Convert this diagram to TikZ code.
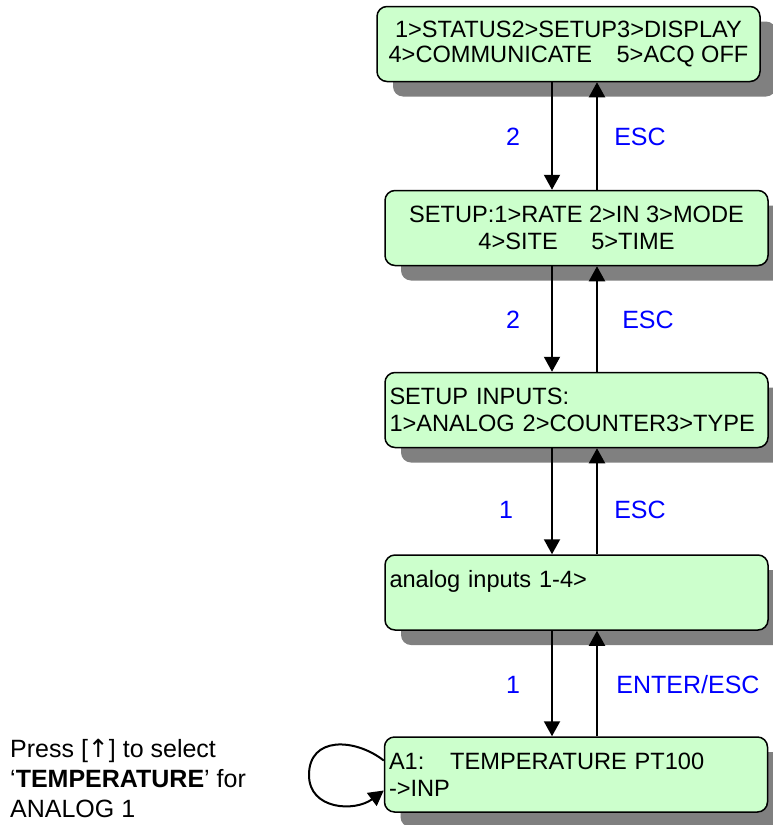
\documentclass[tikz,border=0pt]{standalone}
\usepackage{fontspec}
\setmainfont{Liberation Sans}
\newfontfamily\symfont{DejaVu Sans}
\usetikzlibrary{shadows,arrows.meta}
\definecolor{menugreen}{HTML}{CCFFCC}
\definecolor{shadowgray}{HTML}{808080}
\begin{document}
\begin{tikzpicture}
[x=1pt,y=-1pt,>={Triangle[width=16pt,length=15pt]},
menu/.style = {draw, line width=1.5pt, rounded corners=10pt, fill=menugreen, minimum width=383pt, minimum height=75pt, inner xsep=4.5pt, font=\fontsize{23.6}{27}\selectfont, drop shadow={shadow xshift=16pt, shadow yshift=-15pt, fill=shadowgray, opacity=1}},
lefttext/.style = {text width=374pt, align=left},
key/.style = {text=blue, font=\fontsize{25}{30}\selectfont},
link/.style = {->, line width=2pt},]
\useasboundingbox (0,0) rectangle (773,825);
\node (b1) at (568.5,44)[menu,align=center] {1>STATUS2>SETUP3>DISPLAY\\[-2pt]4>COMMUNICATE\hspace{18pt} 5>ACQ OFF};
\node (b2) at (576.5,228)[menu,align=center] {SETUP:1>RATE 2>IN 3>MODE\\4>SITE\hspace{27pt} 5>TIME};
\node (b3) at (576.5,410)[menu,lefttext] {SETUP INPUTS:\\1>ANALOG 2>COUNTER3>TYPE};
\node (b4) at (576.5,592.5)[menu,lefttext] {analog inputs 1-4>\\\mbox{}};
\node (b5) at (576,774.5)[menu,lefttext] {A1:\hspace{14pt} TEMPERATURE PT100\\->INP};
\node (hint) at (10,778)[anchor=west, align=left, inner sep=0pt, font=\fontsize{25}{30}\selectfont] {Press [{\symfont ↑}] to select\\‘\textbf{TEMPERATURE}’ for\\ANALOG 1};
\coordinate (dn) at (552,0);
\coordinate (up) at (597,0);
\draw[link] (b1.south -| dn)--(b2.north -| dn);
\draw[link] (b2.north -| up)--(b1.south -| up);
\draw[link] (b2.south -| dn)--(b3.north -| dn);
\draw[link] (b3.north -| up)--(b2.south -| up);
\draw[link] (b3.south -| dn)--(b4.north -| dn);
\draw[link] (b4.north -| up)--(b3.south -| up);
\draw[link] (b4.south -| dn)--(b5.north -| dn);
\draw[link] (b5.north -| up)--(b4.south -| up);
\draw[link] ([yshift=14pt]b5.west) .. controls (355,738) and (309,736) .. (309,775) .. controls (309,810) and (355,812) .. ([yshift=-16pt]b5.west);
\node (k1) at (513,137)[key] {2};
\node (e1) at (640,137)[key] {ESC};
\node (k2) at (513,320)[key] {2};
\node (e2) at (648,320)[key] {ESC};
\node (k3) at (506,510)[key] {1};
\node (e3) at (640,510)[key] {ESC};
\node (k4) at (513,685)[key] {1};
\node (e4) at (688,685)[key] {ENTER/ESC};
\end{tikzpicture}
\end{document}
